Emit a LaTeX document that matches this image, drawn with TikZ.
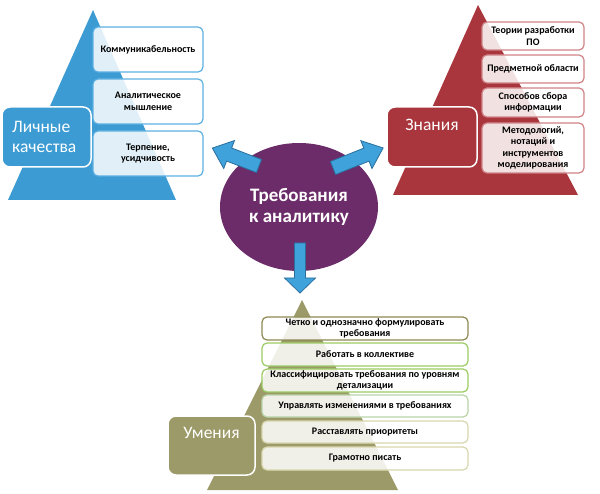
\documentclass[tikz,border=0pt]{standalone}
\usepackage{fontspec}
\setmainfont{Carlito}
\usetikzlibrary{shapes.geometric}
\definecolor{tblue}{HTML}{3C9BD3}
\definecolor{tred}{HTML}{A8363C}
\definecolor{tpurple}{HTML}{6C2C69}
\definecolor{tolive}{HTML}{9C9A68}
\definecolor{arrblue}{HTML}{3FA2DA}
\definecolor{arredge}{HTML}{2B6F9F}
\definecolor{bbord}{HTML}{5DB0E2}
\definecolor{rbord}{HTML}{CF8387}
\definecolor{obordA}{HTML}{8C8A52}
\definecolor{obordB}{HTML}{9BCB63}
\definecolor{obordC}{HTML}{B8D4A8}
\definecolor{obordD}{HTML}{D9D7AE}
\newcommand\myblockarrow[7]{%
  \begin{scope}[shift={(#1,#2)},rotate=#3]
    \filldraw[fill=arrblue,draw=arredge,line width=0.8pt]
      (0,-#5) -- ({#4-#7},-#5) -- ({#4-#7},-#6) -- (#4,0) --
      ({#4-#7},#6) -- ({#4-#7},#5) -- (0,#5) -- cycle;
  \end{scope}}
\begin{document}
\begin{tikzpicture}[x=1pt,y=-1pt,
  item/.style={draw, rounded corners=5pt, fill=white, fill opacity=0.85,
    text opacity=1, line width=1.2pt, inner sep=0pt, align=center,
    font=\bfseries\fontsize{10}{11.5}\selectfont, text=black},
  lbl/.style={draw=white, line width=1.5pt, rounded corners=8pt, inner sep=0pt},
  lbltext/.style={text=white, font=\fontsize{17.5}{20}\selectfont, inner sep=0pt}]
\useasboundingbox (0,0) rectangle (600,494);
% triangles
\fill[tblue] (8,200) -- (93,10) -- (176,200) -- cycle;
\fill[tred] (393,195) -- (478,5) -- (578,195) -- cycle;
\fill[tolive] (207,490) -- (302,300) -- (398,490) -- cycle;
% label boxes
\node[lbl, fill=tblue, minimum width=89pt, minimum height=60pt] (lk) at (46.5,137) {};
\node[lbltext, anchor=west, align=left] (lkt) at (12,137) {Личные\\качества};
\node[lbl, fill=tred, minimum width=90pt, minimum height=60pt] (zn) at (432,137) {};
\node[lbltext] (znt) at (432,125) {Знания};
\node[lbl, fill=tolive, minimum width=87pt, minimum height=59pt] (um) at (211.5,445.5) {};
\node[lbltext] (umt) at (211.5,433) {Умения};
% blue items
\node[item, draw=bbord, minimum width=110pt, minimum height=45pt] (b1) at (148,49.5) {Коммуникабельность};
\node[item, draw=bbord, minimum width=110pt, minimum height=45pt] (b2) at (148,101.5) {Аналитическое\\мышление};
\node[item, draw=bbord, minimum width=110pt, minimum height=45pt] (b3) at (148,153.5) {Терпение,\\усидчивость};
% red items
\node[item, draw=rbord, minimum width=102pt, minimum height=28pt] (r1) at (533,36) {Теории разработки\\ПО};
\node[item, draw=rbord, minimum width=102pt, minimum height=28pt] (r2) at (533,69) {Предметной области};
\node[item, draw=rbord, minimum width=102pt, minimum height=29pt] (r3) at (533,102.5) {Способов сбора\\информации};
\node[item, draw=rbord, minimum width=102pt, minimum height=50pt] (r4) at (533,148) {Методологий,\\нотаций и\\инструментов\\моделирования};
% olive items
\node[item, draw=obordA, minimum width=206pt, minimum height=23pt] (o1) at (365,328.5) {Четко и однозначно формулировать\\требования};
\node[item, draw=obordB, minimum width=206pt, minimum height=23pt] (o2) at (365,354.5) {Работать в коллективе};
\node[item, draw=obordB, minimum width=206pt, minimum height=23pt] (o3) at (365,380.5) {Классифицировать требования по уровням\\детализации};
\node[item, draw=obordC, minimum width=206pt, minimum height=22pt] (o4) at (365,406) {Управлять изменениями в требованиях};
\node[item, draw=obordD, minimum width=206pt, minimum height=22pt] (o5) at (365,432) {Расставлять приоритеты};
\node[item, draw=obordD, minimum width=206pt, minimum height=23pt] (o6) at (365,458.5) {Грамотно писать};
% center
\node[ellipse, fill=tpurple, minimum width=158pt, minimum height=128pt, inner sep=0pt,
  text=white, align=center, font=\bfseries\fontsize{19}{21}\selectfont] (req) at (299,207) {Требования\\к аналитику};
% arrows
\myblockarrow{259}{166}{159}{50}{7}{15}{18}
\myblockarrow{333}{168}{21.8}{54}{7}{15}{18}
\myblockarrow{300}{243}{-90}{50}{5.5}{15.5}{15}
\end{tikzpicture}
\end{document}
